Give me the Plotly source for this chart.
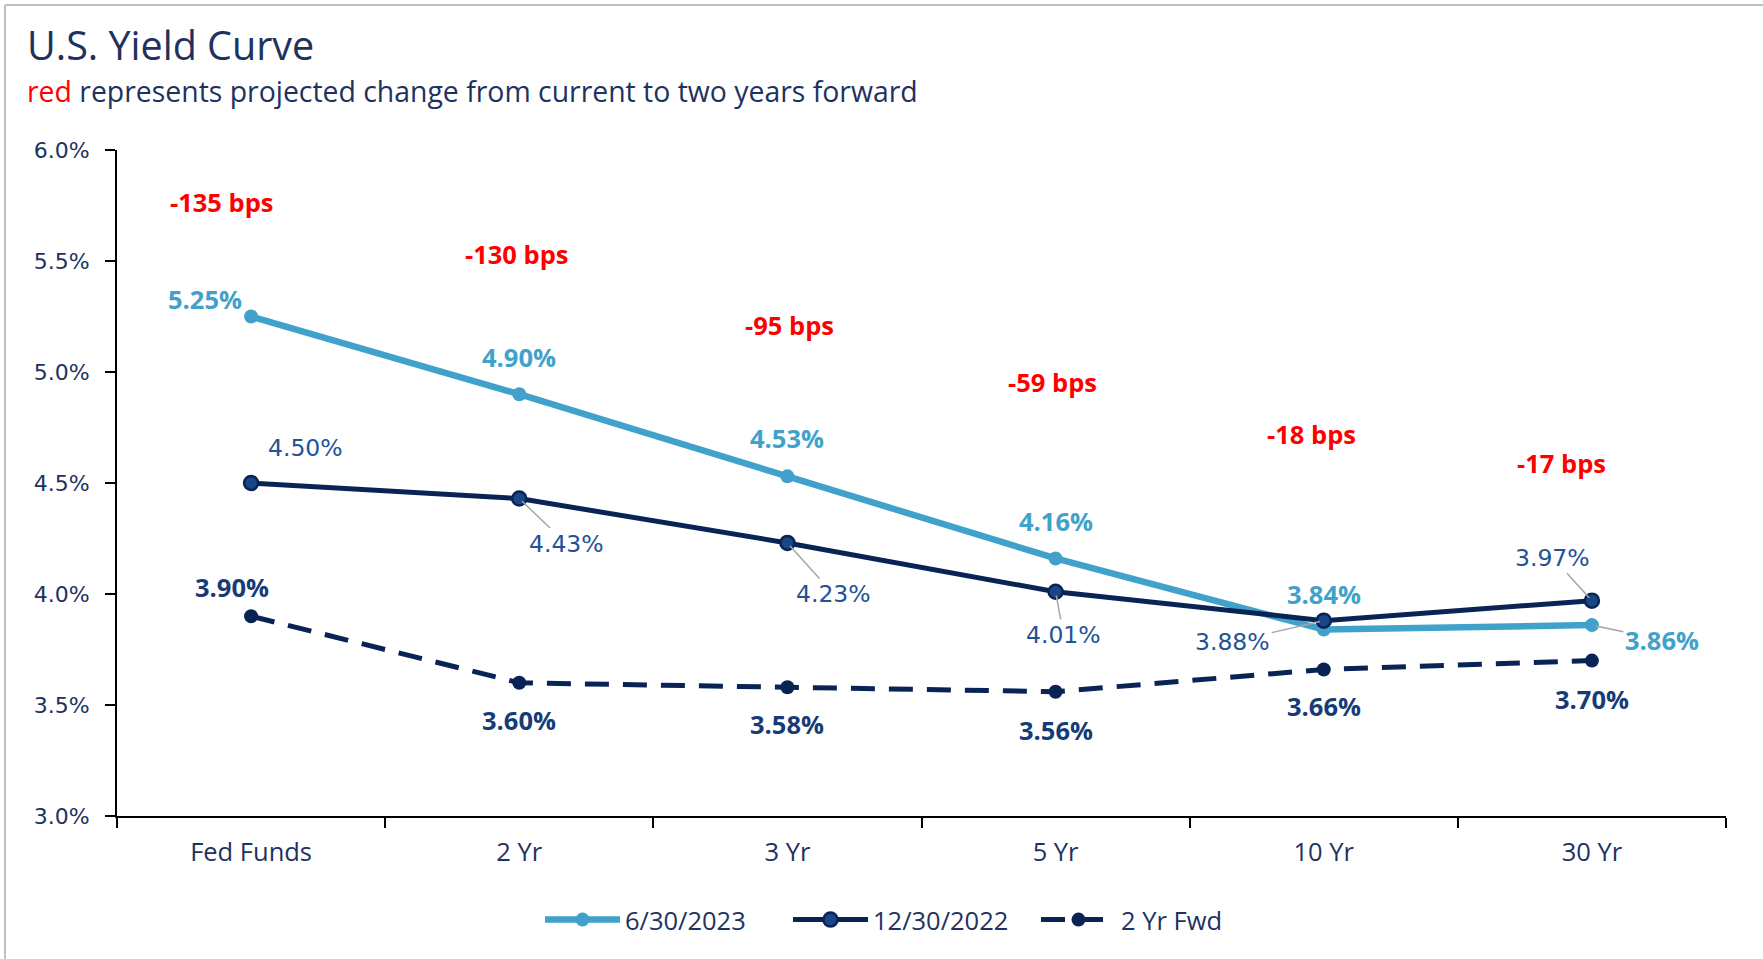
import plotly.graph_objects as go

# ---- data ----
categories = ["Fed Funds", "2 Yr", "3 Yr", "5 Yr", "10 Yr", "30 Yr"]
yields_2023_06_30 = [5.25, 4.90, 4.53, 4.16, 3.84, 3.86]
yields_2022_12_30 = [4.50, 4.43, 4.23, 4.01, 3.88, 3.97]
yields_2yr_fwd = [3.90, 3.60, 3.58, 3.56, 3.66, 3.70]
bps_change = [-135, -130, -95, -59, -18, -17]
series_names = ["6/30/2023", "12/30/2022", "2 Yr Fwd"]
y_ticks = [3.0, 3.5, 4.0, 4.5, 5.0, 5.5, 6.0]

# ---- styling / label placement (pixels) ----
LIGHT = "rgb(64,162,203)"
NAVY = "rgb(10,35,85)"
NAVY_FILL = "rgb(25,70,135)"
MID = "rgb(35,82,150)"
FWD_LBL = "rgb(22,60,120)"
TXT = "rgb(30,50,95)"
RED = "rgb(255,0,0)"
GRAY = "rgb(166,166,166)"

FONT = "Open Sans, Noto Sans, sans-serif"
FONT_W = "DejaVu Sans, Verdana, sans-serif"

light_off = [(-46, 18), (0, 37), (0, 38), (0, 37), (0, 36), None]
light_lead = {5: (70, 15)}
dark_off = [(54, 35), None, None, None, None, None]
dark_lead = {1: (47, 45), 2: (46, 51), 3: (8, 43), 4: (-91, 21), 5: (-39, -43)}
fwd_off = [(-19, 29), (0, -37), (0, -37), (0, -38), (0, -37), (0, -38)]
bps_y = [5.767, 5.53, 5.21, 4.953, 4.72, 4.59]
bps_xshift = [-29, -2, 2, -3, -12, -30]

W, H = 1763, 959
ML, MR, MT, MB = 117, 37, 150, 143
PW, PH = W - ML - MR, H - MT - MB

fig = go.Figure()
fig.add_trace(go.Scatter(
    x=categories, y=yields_2023_06_30, name=series_names[0], mode="lines+markers",
    line=dict(color=LIGHT, width=6.5), marker=dict(size=14, color=LIGHT)))
fig.add_trace(go.Scatter(
    x=categories, y=yields_2022_12_30, name=series_names[1], mode="lines+markers",
    line=dict(color=NAVY, width=5),
    marker=dict(size=14, color=NAVY_FILL, line=dict(color=NAVY, width=2.5))))
fig.add_trace(go.Scatter(
    x=categories, y=yields_2yr_fwd, name=series_names[2], mode="lines+markers",
    line=dict(color=NAVY, width=5, dash="24px,14px"), marker=dict(size=14, color=NAVY)))

ann = []
fmt = lambda v: f"{v:.2f}%"
for i, c in enumerate(categories):
    f_light = dict(family=FONT, size=25.5, color=LIGHT, weight="bold")
    if i in light_lead:
        ax, ay = light_lead[i]
        ann.append(dict(x=c, y=yields_2023_06_30[i], text=fmt(yields_2023_06_30[i]), font=f_light,
                        showarrow=True, arrowhead=0, arrowwidth=1.5, arrowcolor=GRAY,
                        ax=ax, ay=ay, standoff=4))
    else:
        xs, ys = light_off[i]
        ann.append(dict(x=c, y=yields_2023_06_30[i], text=fmt(yields_2023_06_30[i]), font=f_light,
                        showarrow=False, xshift=xs, yshift=ys))
    f_dark = dict(family=FONT_W, size=23.5, color=MID)
    if i in dark_lead:
        ax, ay = dark_lead[i]
        ann.append(dict(x=c, y=yields_2022_12_30[i], text=fmt(yields_2022_12_30[i]), font=f_dark,
                        showarrow=True, arrowhead=0, arrowwidth=1.5, arrowcolor=GRAY,
                        ax=ax, ay=ay, standoff=4))
    else:
        xs, ys = dark_off[i]
        ann.append(dict(x=c, y=yields_2022_12_30[i], text=fmt(yields_2022_12_30[i]), font=f_dark,
                        showarrow=False, xshift=xs, yshift=ys))
    xs, ys = fwd_off[i]
    ann.append(dict(x=c, y=yields_2yr_fwd[i], text=fmt(yields_2yr_fwd[i]),
                    font=dict(family=FONT, size=25.5, color=FWD_LBL, weight="bold"),
                    showarrow=False, xshift=xs, yshift=ys))
    ann.append(dict(x=c, y=bps_y[i], text=f"{bps_change[i]} bps",
                    font=dict(family=FONT, size=25.5, color=RED, weight="bold"),
                    showarrow=False, xshift=bps_xshift[i]))


def px(xp):
    return (xp - ML) / PW


def py(yp):
    return (H - MB - yp) / PH


ann.append(dict(xref="paper", yref="paper", x=px(25), y=py(45), xanchor="left", yanchor="middle",
                text="U.S. Yield Curve", showarrow=False,
                font=dict(family=FONT, size=39.5, color=TXT)))
ann.append(dict(xref="paper", yref="paper", x=px(25), y=py(91), xanchor="left", yanchor="middle",
                text="<span style='color:red'>red</span> represents projected change from current to two years forward",
                showarrow=False, font=dict(family=FONT, size=28.4, color=TXT)))

shapes = [
    dict(type="line", xref="paper", yref="paper", x0=px(5), x1=px(W), y0=py(5), y1=py(5),
         line=dict(color="rgb(192,192,192)", width=2)),
    dict(type="line", xref="paper", yref="paper", x0=px(5), x1=px(5), y0=py(5), y1=py(H),
         line=dict(color="rgb(192,192,192)", width=2)),
]

fig.update_layout(
    width=W, height=H,
    margin=dict(l=ML, r=MR, t=MT, b=MB),
    paper_bgcolor="white", plot_bgcolor="white",
    showlegend=True,
    legend=dict(orientation="h", x=px(540), xanchor="left", y=py(920), yanchor="middle",
                font=dict(family=FONT, size=25.5, color=TXT), itemwidth=75,
                entrywidth=158, entrywidthmode="pixels",
                bgcolor="rgba(0,0,0,0)", traceorder="normal"),
    annotations=ann, shapes=shapes,
    xaxis=dict(type="category", range=[-0.5, 5.5], showline=True, linecolor="black", linewidth=2,
               ticks="outside", tickson="boundaries", ticklen=10, tickcolor="black", tickwidth=2,
               showgrid=False, tickfont=dict(family=FONT, size=25.5, color=TXT), ticklabelstandoff=12),
    yaxis=dict(range=[3.0, 6.0], tickvals=y_ticks, ticktext=[f"{v:.1f}%" for v in y_ticks],
               showline=True, linecolor="black", linewidth=2, ticks="outside", ticklen=10,
               tickcolor="black", tickwidth=2, showgrid=False, zeroline=False,
               ticklabelstandoff=11,
               tickfont=dict(family=FONT_W, size=22, color=TXT)),
)

fig.write_html("out.html", config={"displayModeBar": False},
               post_script="document.body.style.margin='0';document.body.style.overflow='hidden';")
